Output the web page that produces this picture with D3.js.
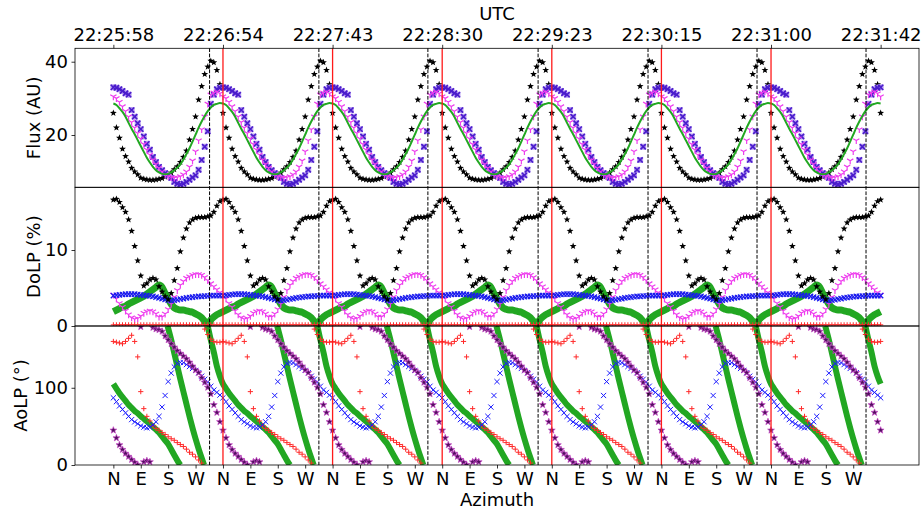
<!DOCTYPE html>
<html><head><meta charset="utf-8">
<script src="https://cdn.jsdelivr.net/npm/d3@7"></script>
<style>
body{margin:0;background:#fff;}
svg{display:block;font-family:"DejaVu Sans",sans-serif;}
</style></head><body>
<svg id="c" width="924" height="511"></svg>
<script>
// ---------- DATA (one rotation, repeated for each of the 7 rotations) ----------
const azCycle = [0,10,20,30,40,50,60,70,80,90,100,110,120,130,140,150,160,170,180,190,200,210,220,230,240,250,260,270,280,290,300,310,320,330,340,350];
const nRot = 7;
// Flux (AU)
const fluxBlack   = [26,22,19.2,16.2,14.2,12.7,11,10,9.2,8.3,8,7.8,7.7,7.7,7.8,8,8.2,8.6,9.1,9.7,10.6,11.4,12.6,14,15.7,18.7,21.6,25,29.6,33.3,36.6,38.6,40.2,39.8,37.7,33.8];
const fluxPurple  = [33,32.9,32.5,32,31.4,31,26.8,25,23.2,21.6,19.6,17.6,16,14,12.6,11.3,10.4,9.6,9,8.3,7.2,6.7,6.5,6.7,7.2,7.8,8.4,9,10.5,13.2,16.8,21,28.5,31,32.5,32.9];
const fluxMagenta = [30.5,30,29,27.8,26.5,25,23.5,22,20.5,19,17.5,16,14.6,13.2,12,11,10,9.2,8.7,8.4,8.3,8.4,8.7,9.2,10,11.3,13,15.5,18.5,21.5,25,28.5,31,31.5,31.8,31.3];
const fluxGreen   = [28.6,28.2,27.3,26.3,25,23.3,21.7,20.2,18.6,17,15.4,13.8,12.5,11.3,10.4,9.8,9.4,9.3,9.4,9.8,10.4,11.1,12,13.3,14.8,16.4,18.2,20.1,22,23.7,25.2,26.5,27.5,28.2,28.5,28.7];
// DoLP (%)
const dolpBlack   = [16.6,16.7,16.3,15.6,15,14,12.5,10.5,8.6,6.6,5.3,5.6,6.1,6.3,6.1,5.2,4.5,3.9,3.5,4.3,6,7.6,9.8,11.6,12.8,13.6,14,14.2,14.3,14.3,14.3,14.4,14.5,15,15.8,16.4];
const dolpMagenta = [4.1,3.6,3,2.5,2,1.5,1.1,0.9,1,1.3,1.7,1.9,2,1.9,1.6,1.2,1.2,1.6,2.2,2.9,3.8,4.7,5.4,5.9,6.3,6.5,6.7,6.8,6.8,6.7,6.4,6,5.6,5.2,4.8,4.4];
const dolpBlue    = [4,4.05,4.1,4.15,4.2,4.2,4.2,4.2,4.15,4.1,4.05,4,3.95,3.9,3.8,3.7,3.6,3.5,3.4,3.35,3.4,3.45,3.55,3.6,3.7,3.75,3.8,3.85,3.9,3.9,3.95,3.95,4,4,4,4];
const dolpRed     = [0.15,0.15,0.15,0.15,0.15,0.15,0.15,0.15,0.15,0.15,0.15,0.15,0.15,0.15,0.15,0.15,0.15,0.15,0.15,0.15,0.15,0.15,0.15,0.15,0.15,0.15,0.15,0.15,0.15,0.15,0.15,0.15,0.15,0.15,0.15,0.15];
const dolpGreen   = [1.9,2.1,2.3,2.5,2.6,2.9,3.1,3.3,3.5,3.7,3.9,4.2,4.5,4.8,5.1,5.4,5.1,4.3,3.6,2.9,2.4,2.2,2.1,2.1,2,1.9,1.8,1.6,1.4,1.1,0.6,0.1,0.8,1.2,1.5,1.7];
// AoLP (deg)
const aolpBlue    = [87,82,76.5,72,67.5,63,58.8,55.8,53.4,50.6,49,48.1,48.8,52,56,63,75,90,108,119,127,131.6,132.8,132.5,130,127.5,125,122.5,119.5,115,111,107.5,102,97,94,90.5];
const aolpRed     = [160,159,158,157,160,164,168,160,140,95,73,63,57,51,47.5,45,42,39.5,36.5,34,32,29,26.5,24,20.5,16.5,14,10.5,6.5,2.5,176,169,163,160,159,159];
const aolpPurple  = [45,35,26,20,15,11,7,3.5,0.5,179,4,5.5,4,178,176,175,173,167,162,157,152.5,148,144.5,141,137.5,133,128,123,119.5,113,107,100.5,92,78,68,56];
const greenAAz    = [-50,-40,-30,-20,-10,0,10,20,30,40,50,60,70,80,90,100,110,120,130,140,150,160,170,180,190,200,210,220];
const greenAVals  = [180,162,146,128,115,105,99,93,88,83,78,74,70,67,63,60,56.5,53,49.5,46,42,37,32,27,20,13,6,0];
const greenBAz    = [178,190,200,210,220,230,240,250,260,270,280,290,298];
const greenBVals  = [180,162,145,128,111,95,79,63,48,34,21,9,0];
// Reference lines and ticks
const dashedAz = [316,675,1033,1395,1756,2114,2472];
const redAz    = [360,720,1080,1440,1800,2160];
const utcAz     = [0,360,720,1080,1440,1800,2160,2520];
const utcLabels = ["22:25:58","22:26:54","22:27:43","22:28:30","22:29:23","22:30:15","22:31:00","22:31:42"];
const dirLabels = ["N","E","S","W"];
const azTickStep = 90;

// ---------- LAYOUT ----------
const svg = d3.select("#c");
const L=75, R=919, T=48.3, B1=187.3, B2=326, B3=465;
const x = d3.scaleLinear().domain([-126,2646]).range([L,R]);
const yF = d3.scaleLinear().domain([5.73,43.66]).range([B1,T]);
const yD = d3.scaleLinear().domain([0,18.25]).range([B2,B1]);
const yA = d3.scaleLinear().domain([0,180]).range([B3,B2]);
const FS = 18;

function expand(vals){
  const out=[];
  for(let k=0;k<nRot;k++) azCycle.forEach((a,i)=>out.push({x:360*k+a, v:vals[i]}));
  out.push({x:360*nRot, v:vals[0]});
  return out;
}
function bands(azs, vals, k0, k1){
  const out=[];
  for(let k=k0;k<=k1;k++){
    const pts=[];
    azs.forEach((a,i)=>{const xv=360*k+a; if(xv>=0 && xv<=360*nRot) pts.push({x:xv, v:vals[i]});});
    if(pts.length>1) out.push(pts);
  }
  return out;
}
// marker shapes
function starPath(Rr){let p="";for(let i=0;i<10;i++){const r=i%2?Rr*0.42:Rr;const t=-Math.PI/2+i*Math.PI/5;p+=(i?"L":"M")+(r*Math.cos(t)).toFixed(2)+","+(r*Math.sin(t)).toFixed(2);}return p+"Z";}
const triDown = r=>`M0,0L0,${r}M0,0L${(-0.866*r).toFixed(2)},${(-0.5*r).toFixed(2)}M0,0L${(0.866*r).toFixed(2)},${(-0.5*r).toFixed(2)}`;
const plusP = r=>`M${-r},0H${r}M0,${-r}V${r}`;
const xP = r=>`M${-r},${-r}L${r},${r}M${-r},${r}L${r},${-r}`;

// clip paths
const defs = svg.append("defs");
[["cF",B1],["cD",B2],["cA",B3]].forEach(([id,b],i)=>{
  const top=[T,B1,B2][i];
  defs.append("clipPath").attr("id",id).append("rect").attr("x",L).attr("y",top).attr("width",R-L).attr("height",b-top);
});
const gF = svg.append("g").attr("clip-path","url(#cF)");
const gD = svg.append("g").attr("clip-path","url(#cD)");
const gA = svg.append("g").attr("clip-path","url(#cA)");

function markers(g, data, y, path, attrs){
  const s = g.append("g").selectAll("path").data(data).join("path")
    .attr("transform",d=>`translate(${x(d.x).toFixed(2)},${y(d.v).toFixed(2)})`)
    .attr("d",path);
  Object.entries(attrs).forEach(([k,v])=>s.attr(k,v));
  return s;
}
const GREEN="#22a722";

// ---- Flux panel
markers(gF, expand(fluxBlack), yF, starPath(3.6), {fill:"#000"});
markers(gF, expand(fluxPurple), yF, "M-3,-3H3V3H-3Z", {fill:"#b69bf0"});
markers(gF, expand(fluxPurple), yF, xP(2.6), {fill:"none",stroke:"#4a1ccc","stroke-width":1.6});
markers(gF, expand(fluxMagenta), yF, triDown(3.6), {fill:"none",stroke:"#ee3cee","stroke-width":1.2});
gF.append("path").datum(expand(fluxGreen))
  .attr("d",d3.line().x(d=>x(d.x)).y(d=>yF(d.v)).curve(d3.curveMonotoneX))
  .attr("fill","none").attr("stroke",GREEN).attr("stroke-width",2);

// ---- DoLP panel
gD.append("path").datum(expand(dolpGreen))
  .attr("d",d3.line().x(d=>x(d.x)).y(d=>yD(d.v)).curve(d3.curveMonotoneX))
  .attr("fill","none").attr("stroke",GREEN).attr("stroke-width",7).attr("stroke-linejoin","round");
markers(gD, expand(dolpMagenta), yD, triDown(3.6), {fill:"none",stroke:"#ee3cee","stroke-width":1.2});
markers(gD, expand(dolpBlue), yD, xP(2.6), {fill:"none",stroke:"#1a1aee","stroke-width":1.3});
markers(gD, expand(dolpRed), yD, plusP(2.6), {fill:"none",stroke:"#ff2a2a","stroke-width":1});
markers(gD, expand(dolpBlack), yD, starPath(3.6), {fill:"#000"});

// ---- AoLP panel
const gl = d3.line().x(d=>x(d.x)).y(d=>yA(d.v)).curve(d3.curveMonotoneX);
bands(greenAAz, greenAVals, 0, nRot).concat(bands(greenBAz, greenBVals, 0, nRot-1)).forEach(b=>{
  gA.append("path").datum(b).attr("d",gl).attr("fill","none").attr("stroke",GREEN).attr("stroke-width",6);
});
markers(gA, expand(aolpRed), yA, plusP(2.6), {fill:"none",stroke:"#ff2a2a","stroke-width":1});
markers(gA, expand(aolpBlue), yA, xP(2.6), {fill:"none",stroke:"#1a1aff","stroke-width":1});
markers(gA, expand(aolpPurple), yA, starPath(3.6), {fill:"#531060",stroke:"#c84ac8","stroke-width":0.7});

// ---- vertical reference lines
const gV = svg.append("g");
gV.selectAll("line.d").data(dashedAz).join("line").attr("class","d")
  .attr("x1",d=>x(d)).attr("x2",d=>x(d)).attr("y1",T).attr("y2",B3)
  .attr("stroke","#000").attr("stroke-width",1).attr("stroke-dasharray","3.7,1.6");
gV.selectAll("line.r").data(redAz).join("line").attr("class","r")
  .attr("x1",d=>x(d)).attr("x2",d=>x(d)).attr("y1",T).attr("y2",B3)
  .attr("stroke","#ff1a1a").attr("stroke-width",1.3);

// ---- frames
[[T,B1],[B1,B2],[B2,B3]].forEach(([t,b])=>{
  svg.append("rect").attr("x",L).attr("y",t).attr("width",R-L).attr("height",b-t)
    .attr("fill","none").attr("stroke","#000").attr("stroke-width",0.8);
});

// ---- axes
function styleAxis(g){
  g.select(".domain").remove();
  g.selectAll(".tick line").attr("stroke","#000").attr("stroke-width",0.8);
  g.selectAll(".tick text").attr("font-size",FS).attr("fill","#000").attr("font-family","DejaVu Sans");
}
svg.append("g").attr("transform",`translate(${L},0)`).call(d3.axisLeft(yF).tickValues([20,40]).tickSize(3.5).tickPadding(3.5)).call(styleAxis);
svg.append("g").attr("transform",`translate(${L},0)`).call(d3.axisLeft(yD).tickValues([0,10]).tickSize(3.5).tickPadding(3.5)).call(styleAxis);
svg.append("g").attr("transform",`translate(${L},0)`).call(d3.axisLeft(yA).tickValues([0,100]).tickSize(3.5).tickPadding(3.5)).call(styleAxis);

const azTicks = d3.range(0, 360*nRot, azTickStep);
svg.append("g").attr("transform",`translate(0,${B3})`)
  .call(d3.axisBottom(x).tickValues(azTicks).tickFormat((d,i)=>dirLabels[i%4]).tickSize(3.5).tickPadding(3.5))
  .call(styleAxis);
svg.append("g").attr("transform",`translate(0,${T})`)
  .call(d3.axisTop(x).tickValues(utcAz).tickFormat((d,i)=>utcLabels[i]).tickSize(3.5).tickPadding(4))
  .call(styleAxis);

// ---- titles
const txt=(s,xx,yy,rot)=>{const t=svg.append("text").text(s).attr("font-size",FS).attr("fill","#000").attr("text-anchor","middle");
  if(rot) t.attr("transform",`translate(${xx},${yy}) rotate(-90)`); else t.attr("x",xx).attr("y",yy); return t;};
txt("UTC",(L+R)/2,20);
txt("Azimuth",(L+R)/2,506);
txt("Flux (AU)",39.5,(T+B1)/2,true);
txt("DoLP (%)",39.5,(B1+B2)/2,true);
txt("AoLP (°)",27,(B2+B3)/2,true);
</script>
</body></html>
